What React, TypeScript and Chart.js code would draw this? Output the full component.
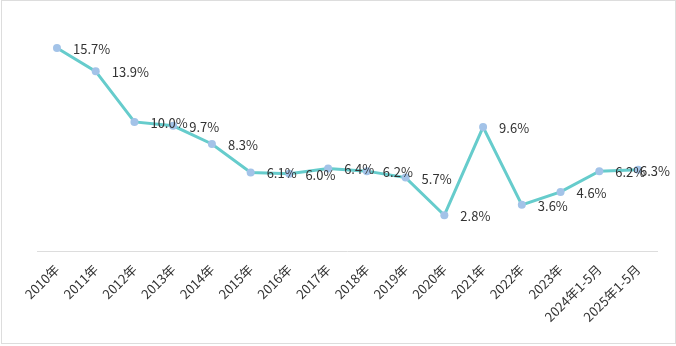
import React, { useEffect, useRef } from "react";
import { Chart, registerables } from "chart.js";

Chart.register(...registerables);

const categories = [
  "2010年", "2011年", "2012年", "2013年", "2014年", "2015年", "2016年", "2017年",
  "2018年", "2019年", "2020年", "2021年", "2022年", "2023年", "2024年1-5月", "2025年1-5月",
];
const values = [15.7, 13.9, 10.0, 9.7, 8.3, 6.1, 6.0, 6.4, 6.2, 5.7, 2.8, 9.6, 3.6, 4.6, 6.2, 6.3];

const FONT = "'Noto Sans CJK SC', 'Open Sans', sans-serif";

const labelPlugin = {
  id: "pointLabels",
  afterDatasetsDraw(chart: any) {
    const ctx = chart.ctx;
    const meta = chart.getDatasetMeta(0);
    ctx.save();
    ctx.font = `13px ${FONT}`;
    ctx.fillStyle = "#333333";
    ctx.textAlign = "left";
    ctx.textBaseline = "middle";
    meta.data.forEach((pt: any, i: number) => {
      const text = values[i].toFixed(1) + "%";
      const w = ctx.measureText(text).width;
      let x = pt.x + 16;
      const maxX = chart.width - 5;
      if (x + w > maxX) x = maxX - w;
      ctx.fillText(text, x, pt.y + 1);
    });
    ctx.restore();
  },
};

export default function App() {
  const ref = useRef<HTMLCanvasElement | null>(null);
  useEffect(() => {
    document.body.style.margin = "0";
    if (!ref.current) return;
    const chart = new Chart(ref.current, {
      type: "line",
      data: {
        labels: categories,
        datasets: [
          {
            data: values,
            borderColor: "#66cccc",
            borderWidth: 3,
            pointBackgroundColor: "#a3c3e8",
            pointBorderColor: "#a3c3e8",
            pointRadius: 4,
            pointBorderWidth: 0,
            tension: 0,
          },
        ],
      },
      options: {
        animation: false,
        responsive: false,
        maintainAspectRatio: false,
        layout: { padding: { left: 35.6, right: 17.6, top: 17.2, bottom: 0 } },
        plugins: { legend: { display: false }, tooltip: { enabled: false } },
        scales: {
          x: {
            offset: true,
            grid: { display: false },
            border: { display: true, color: "#dddddd", width: 1 },
            ticks: {
              color: "#333333",
              font: { size: 13, family: FONT },
              minRotation: 45,
              maxRotation: 45,
              autoSkip: false,
              padding: 2,
            },
            afterFit: (scale: any) => {
              scale.height = 91.5;
            },
          },
          y: {
            display: false,
            min: 0,
            max: 18,
          },
        },
      },
      plugins: [labelPlugin],
    });
    return () => chart.destroy();
  }, []);
  return (
    <div
      style={{
        position: "absolute",
        left: 1,
        top: 0,
        width: 675,
        height: 344,
        border: "1px solid #dddddd",
        boxSizing: "border-box",
        background: "#fff",
      }}
    >
      <canvas ref={ref} width={673} height={342} style={{ display: "block" }} />
    </div>
  );
}
